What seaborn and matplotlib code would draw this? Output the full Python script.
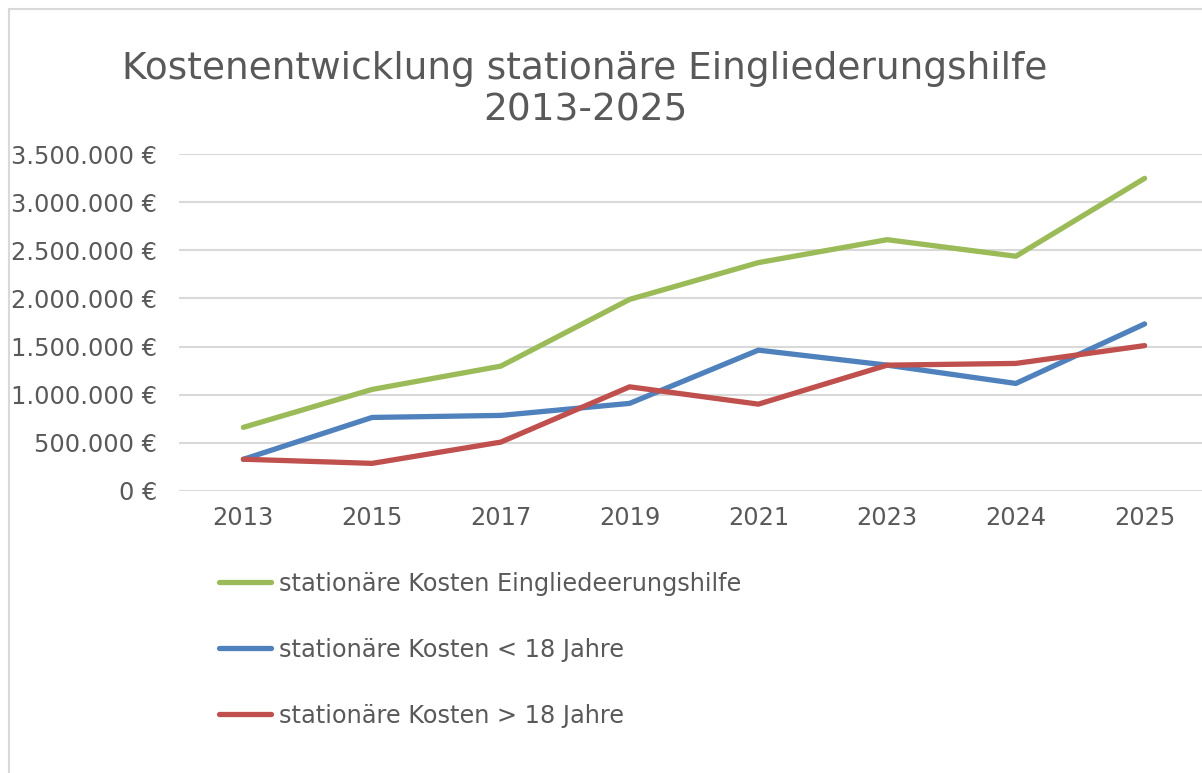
import pandas as pd
import numpy as np
import matplotlib
matplotlib.use("Agg")
import matplotlib.pyplot as plt
import seaborn as sns
from matplotlib.ticker import FuncFormatter, MultipleLocator
from matplotlib.patches import Rectangle

# -------------------------
# Data
# -------------------------
years = ["2013", "2015", "2017", "2019", "2021", "2023", "2024", "2025"]
kosten_gesamt = [661000, 1055000, 1297000, 1990000, 2372000, 2610000, 2438000, 3247000]
kosten_unter_18 = [329000, 764000, 785000, 910000, 1463000, 1307000, 1117000, 1735000]
kosten_ueber_18 = [330000, 287000, 508000, 1082000, 902000, 1307000, 1325000, 1510000]

series_names = [
    "stationäre Kosten Eingliedeerungshilfe",
    "stationäre Kosten < 18 Jahre",
    "stationäre Kosten > 18 Jahre",
]
colors = ["#9BBB59", "#4F81BD", "#C0504D"]
title = "Kostenentwicklung stationäre Eingliederungshilfe\n2013-2025"

text_color = "#595959"
grid_color = "#D9D9D9"


def euro_fmt(v, pos):
    return f"{int(round(v)):,}".replace(",", ".") + " €"


def main():
    df = pd.concat([
        pd.DataFrame({"Jahr": years, "Kosten": vals, "Serie": name})
        for name, vals in zip(series_names, [kosten_gesamt, kosten_unter_18, kosten_ueber_18])
    ], ignore_index=True)

    sns.set_style("white")
    plt.rcParams["font.family"] = ["DejaVu Sans"]

    fig = plt.figure(figsize=(12.02, 7.73), dpi=100)
    W, H = 1202, 773
    # axes box in pixel coords: left 179, right 1209, top 154, bottom 491
    ax = fig.add_axes([179 / W, 1 - 491 / H, (1209 - 179) / W, (491 - 154) / H])

    # chart frame
    fig.patches.append(Rectangle((9 / W, -0.01), 1.0, 1 - 9 / H + 0.01,
                                 transform=fig.transFigure, fill=False,
                                 edgecolor="#D9D9D9", linewidth=1.5))

    sns.lineplot(data=df, x="Jahr", y="Kosten", hue="Serie", palette=colors,
                 linewidth=3.8, sort=False, ax=ax, legend=False)
    for line in ax.lines:
        line.set_solid_capstyle("round")

    ax.set_xlim(-0.5, len(years) - 0.5)
    ax.set_ylim(0, 3500000)
    ax.yaxis.set_major_locator(MultipleLocator(500000))
    ax.yaxis.set_major_formatter(FuncFormatter(euro_fmt))
    ax.grid(axis="y", color=grid_color, linewidth=1.5)
    ax.set_axisbelow(True)
    for s in ax.spines.values():
        s.set_visible(False)
    ax.tick_params(axis="both", length=0, labelsize=17.3, colors=text_color)
    ax.tick_params(axis="y", pad=16)
    ax.tick_params(axis="x", pad=11)
    ax.set_xlabel("")
    ax.set_ylabel("")

    fig.text(585 / W, 1 - 90 / H, title, ha="center", va="center",
             fontsize=27, color=text_color, linespacing=1.2)

    # legend below the plot, one entry per row
    handles = [plt.Line2D([], [], color=c, linewidth=3.8, solid_capstyle="round") for c in colors]
    fig.legend(handles, series_names, loc="upper left",
               bbox_to_anchor=(197 / W, 1 - 550 / H), frameon=False,
               fontsize=17.3, labelcolor=text_color, handlelength=2.2,
               handletextpad=0.3, labelspacing=1.75)

    fig.savefig("out.png", dpi=100)
    plt.close(fig)


if __name__ == "__main__":
    main()
